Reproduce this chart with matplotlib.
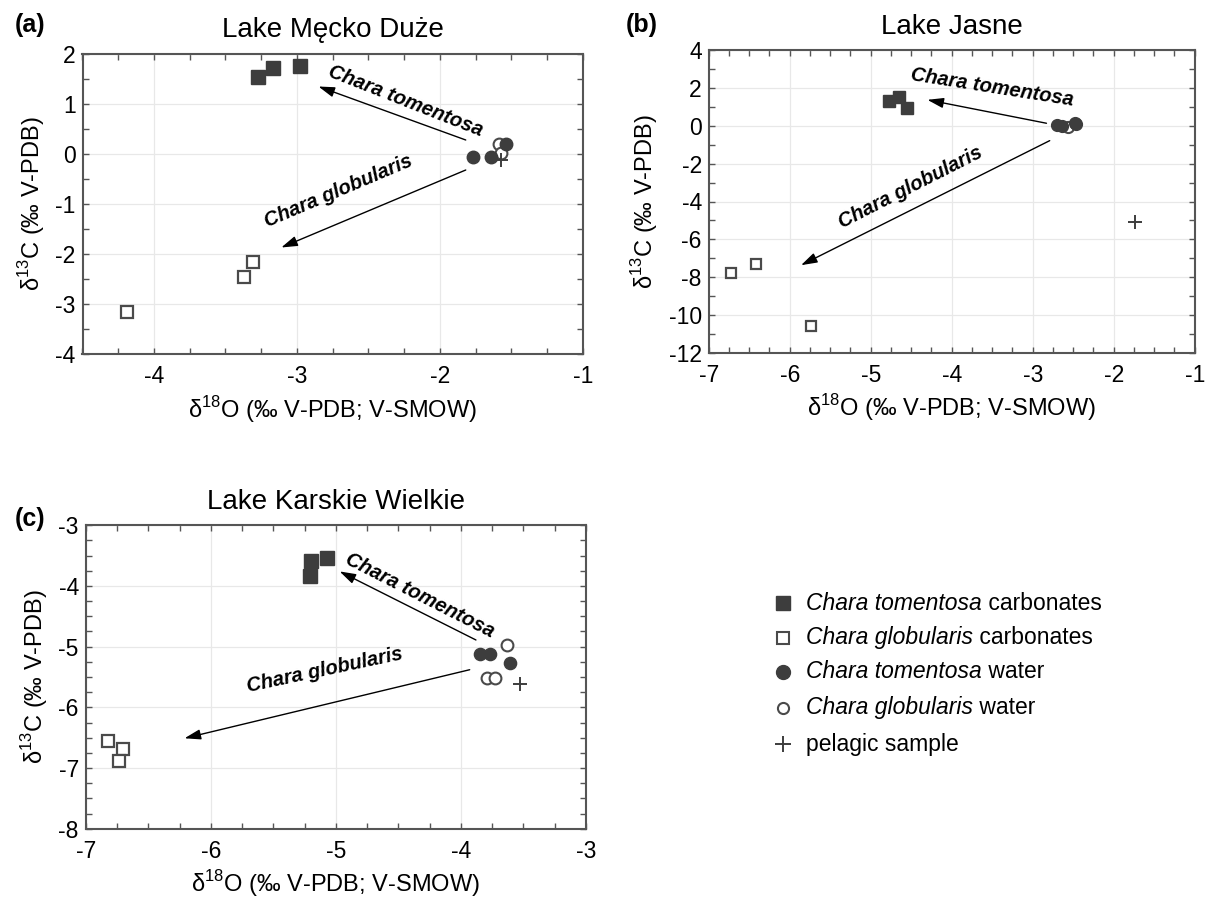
import matplotlib
matplotlib.use('Agg')
import matplotlib.pyplot as plt
from matplotlib.ticker import MultipleLocator

plt.rcParams['font.family'] = ['Liberation Sans', 'DejaVu Sans']
plt.rcParams['axes.unicode_minus'] = False
plt.rcParams['mathtext.fontset'] = 'custom'
plt.rcParams['mathtext.rm'] = 'Liberation Sans'

# ---------------- data ----------------
# (a) Lake Męcko Duże
a_tom_carb_x = [-3.27, -3.17, -2.98]
a_tom_carb_y = [1.55, 1.72, 1.76]
a_glob_carb_x = [-3.31, -3.37, -4.19]
a_glob_carb_y = [-2.15, -2.45, -3.15]
a_tom_wat_x = [-1.77, -1.64, -1.54]
a_tom_wat_y = [-0.06, -0.05, 0.20]
a_glob_wat_x = [-1.59, -1.57]
a_glob_wat_y = [0.20, 0.03]
a_pel_x = [-1.57]
a_pel_y = [-0.11]

# (b) Lake Jasne
b_tom_carb_x = [-4.78, -4.65, -4.55]
b_tom_carb_y = [1.34, 1.55, 0.94]
b_glob_carb_x = [-6.73, -6.42, -5.74]
b_glob_carb_y = [-7.76, -7.30, -10.57]
b_tom_wat_x = [-2.70, -2.64, -2.48, -2.46]
b_tom_wat_y = [0.05, 0.00, 0.17, 0.10]
b_glob_wat_x = [-2.57]
b_glob_wat_y = [-0.05]
b_pel_x = [-1.74]
b_pel_y = [-5.08]

# (c) Lake Karskie Wielkie
c_tom_carb_x = [-5.20, -5.07, -5.21]
c_tom_carb_y = [-3.59, -3.54, -3.84]
c_glob_carb_x = [-6.82, -6.70, -6.73]
c_glob_carb_y = [-6.55, -6.69, -6.89]
c_tom_wat_x = [-3.85, -3.77, -3.61]
c_tom_wat_y = [-5.12, -5.12, -5.27]
c_glob_wat_x = [-3.63, -3.79, -3.73]
c_glob_wat_y = [-4.97, -5.52, -5.52]
c_pel_x = [-3.53]
c_pel_y = [-5.61]

titles = ['Lake Męcko Duże', 'Lake Jasne', 'Lake Karskie Wielkie']
panel_tags = ['(a)', '(b)', '(c)']
xlims = [(-4.5, -1), (-7, -1), (-7, -3)]
ylims = [(-4, 2), (-12, 4), (-8, -3)]
ymajor = [1, 2, 1]
yminor = [0.5, 1, 0.25]

# arrows: (start, end)
a_arrows = [((-1.82, 0.28), (-2.85, 1.35)), ((-1.82, -0.32), (-3.11, -1.87))]
b_arrows = [((-2.83, 0.14), (-4.30, 1.38)), ((-2.79, -0.78), (-5.86, -7.37))]
c_arrows = [((-3.88, -4.89), (-4.97, -3.76)), ((-3.93, -5.38), (-6.21, -6.51))]
# arrow labels: (x, y, rotation)
a_labels = [(-2.24, 1.06, -21.5), (-2.71, -0.74, 23)]
b_labels = [(-3.50, 2.01, -9), (-4.51, -3.28, 27)]
c_labels = [(-4.33, -4.16, -27), (-5.09, -5.38, 12)]
arrow_texts = ['Chara tomentosa', 'Chara globularis']

legend_species = ['Chara tomentosa', 'Chara globularis', 'Chara tomentosa',
                  'Chara globularis', '']
legend_suffix = [' carbonates', ' carbonates', ' water', ' water', 'pelagic sample']

W, H = 1210, 902
fig = plt.figure(figsize=(W / 100, H / 100), dpi=100)

def px_axes(l, t, r, b):
    return fig.add_axes([l / W, 1 - b / H, (r - l) / W, (b - t) / H])

ax_a = px_axes(82.5, 54, 583, 354)
ax_b = px_axes(708.7, 50.3, 1194.7, 352.7)
ax_c = px_axes(85.7, 525.3, 586, 828.7)
axes = [ax_a, ax_b, ax_c]

DARK = '#3d3d3d'
EDGE = '#4a4a4a'
SPINE = '#555555'

sizes = [dict(sq=10, osq=9.0, ci=9.0, oci=8.5, pl=10),
         dict(sq=8.0, osq=7.0, ci=8.5, oci=8.0, pl=10),
         dict(sq=9.5, osq=9.0, ci=8.8, oci=8.5, pl=10)]

datasets = [
    (a_tom_carb_x, a_tom_carb_y, a_glob_carb_x, a_glob_carb_y, a_tom_wat_x, a_tom_wat_y,
     a_glob_wat_x, a_glob_wat_y, a_pel_x, a_pel_y, a_arrows, a_labels),
    (b_tom_carb_x, b_tom_carb_y, b_glob_carb_x, b_glob_carb_y, b_tom_wat_x, b_tom_wat_y,
     b_glob_wat_x, b_glob_wat_y, b_pel_x, b_pel_y, b_arrows, b_labels),
    (c_tom_carb_x, c_tom_carb_y, c_glob_carb_x, c_glob_carb_y, c_tom_wat_x, c_tom_wat_y,
     c_glob_wat_x, c_glob_wat_y, c_pel_x, c_pel_y, c_arrows, c_labels),
]

for i, (ax, ds) in enumerate(zip(axes, datasets)):
    (tcx, tcy, gcx, gcy, twx, twy, gwx, gwy, px, py, arrows, labels) = ds
    s = sizes[i]
    ax.set_xlim(*xlims[i])
    ax.set_ylim(*ylims[i])
    ax.xaxis.set_major_locator(MultipleLocator(1))
    ax.xaxis.set_minor_locator(MultipleLocator(0.25))
    ax.yaxis.set_major_locator(MultipleLocator(ymajor[i]))
    ax.yaxis.set_minor_locator(MultipleLocator(yminor[i]))
    ax.grid(True, which='major', color='#e8e8e8', lw=0.9, zorder=0)
    ax.set_axisbelow(True)
    for sp in ax.spines.values():
        sp.set_color(SPINE)
        sp.set_linewidth(1.5)
    ax.tick_params(which='both', direction='in', top=True, right=True,
                   color=SPINE, labelsize=16.5, labelcolor='black')
    ax.tick_params(which='major', length=4, width=1)
    ax.tick_params(axis='x', which='major', pad=8)
    ax.tick_params(axis='y', which='major', pad=5)
    ax.tick_params(which='minor', length=4, width=1)

    ax.plot(tcx, tcy, 's', ms=s['sq'], mfc=DARK, mec=DARK, zorder=3)
    ax.plot(gcx, gcy, 's', ms=s['osq'], mfc='white', mec=EDGE, mew=1.6, zorder=3)
    ax.plot(gwx, gwy, 'o', ms=s['oci'], mfc='white', mec=EDGE, mew=1.5, zorder=3)
    ax.plot(twx, twy, 'o', ms=s['ci'], mfc=DARK, mec=DARK, zorder=4)
    ax.plot(px, py, '+', ms=s['pl'], mec=DARK, mew=1.4, zorder=5)

    for (st, en) in arrows:
        ax.annotate('', xy=en, xytext=st,
                    arrowprops=dict(arrowstyle='-|>,head_length=0.7,head_width=0.22',
                                    color='black', lw=1.0,
                                    mutation_scale=14, shrinkA=0, shrinkB=0),
                    zorder=2)
    for (lx, ly, rot), txt in zip(labels, arrow_texts):
        ax.text(lx, ly, txt, rotation=rot, rotation_mode='anchor',
                ha='center', va='center', fontsize=14.5, fontweight='bold',
                fontstyle='italic', color='black')

    ax.set_title(titles[i], fontsize=20, pad=12)
    ax.set_xlabel(r'δ$^{18}$O (‰ V-PDB; V-SMOW)', fontsize=17, labelpad=4)
    ax.set_ylabel(r'δ$^{13}$C (‰ V-PDB)', fontsize=17, labelpad=6)

# overlay for panel tags and legend (pixel coordinates)
ov = fig.add_axes([0, 0, 1, 1])
ov.set_xlim(0, W)
ov.set_ylim(H, 0)
ov.axis('off')

tag_pos = [(30, 25), (642, 25), (30, 519)]
for tag, (tx, ty) in zip(panel_tags, tag_pos):
    ov.text(tx, ty, tag, fontsize=18, fontweight='bold', ha='center', va='center')

leg_x = 783
leg_rows = [603, 637.5, 672, 707.5, 744]
ov.plot([leg_x], [leg_rows[0]], 's', ms=10, mfc=DARK, mec=DARK)
ov.plot([leg_x], [leg_rows[1]], 's', ms=9, mfc='white', mec=EDGE, mew=1.5)
ov.plot([leg_x], [leg_rows[2]], 'o', ms=10, mfc=DARK, mec=DARK)
ov.plot([leg_x], [leg_rows[3]], 'o', ms=8, mfc='white', mec=EDGE, mew=1.5)
ov.plot([leg_x], [leg_rows[4]], '+', ms=12, mec=DARK, mew=1.4)
for yy, sp_name, suf in zip(leg_rows, legend_species, legend_suffix):
    if sp_name:
        t = ov.text(806, yy, sp_name, fontsize=16.5, fontstyle='italic',
                    ha='left', va='center')
        ov.annotate(suf, xy=(1, 0.5), xycoords=t, ha='left', va='center',
                    fontsize=16.5)
    else:
        ov.text(806, yy, suf, fontsize=16.5, ha='left', va='center')

fig.savefig('out.png', dpi=100)
